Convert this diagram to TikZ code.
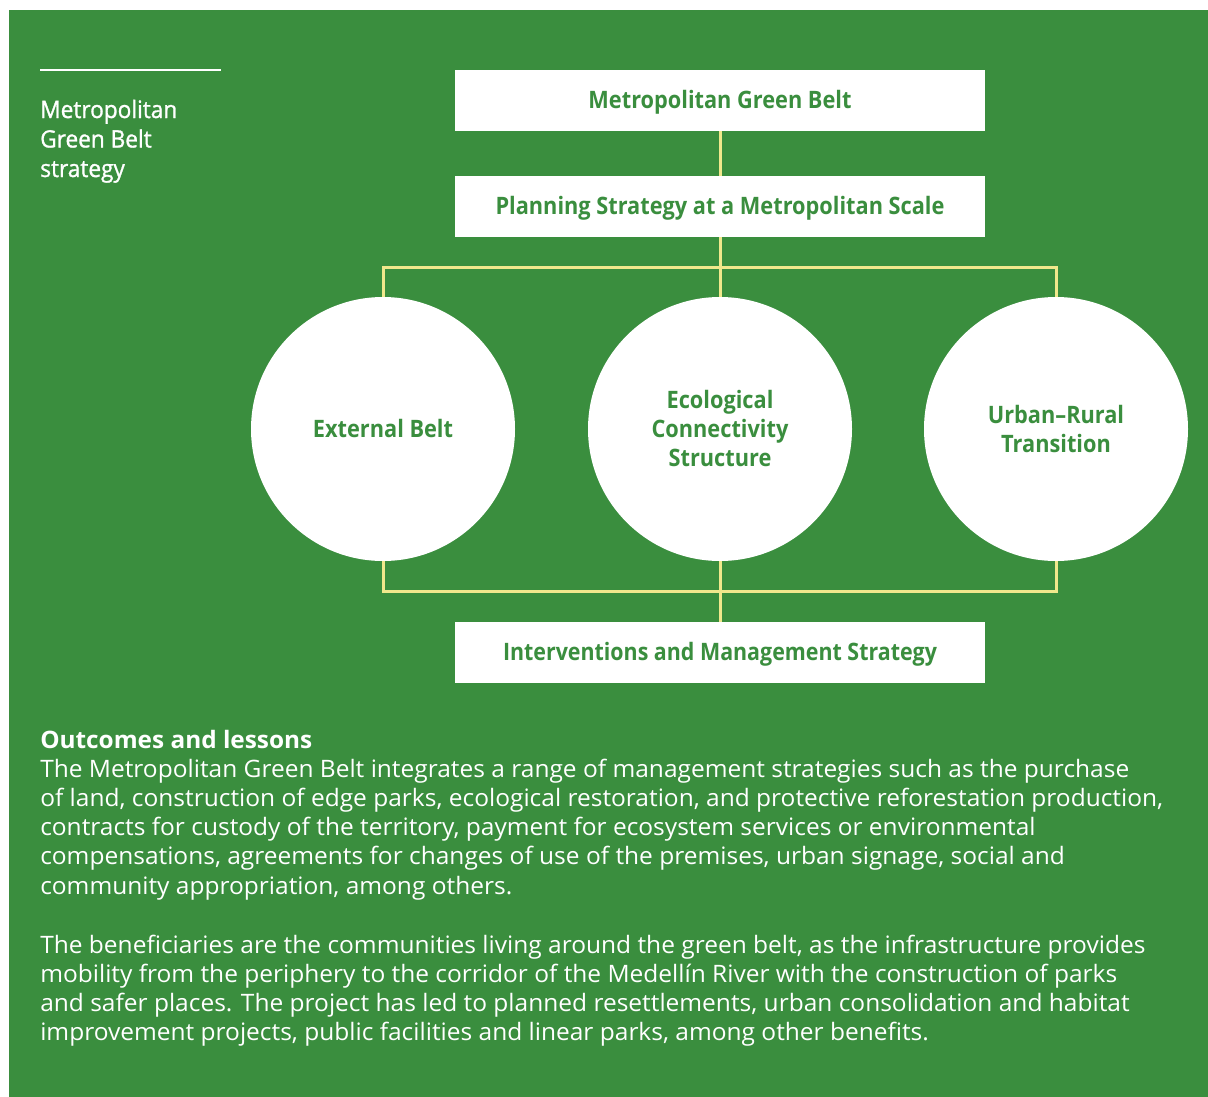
\documentclass[tikz,border=0pt]{standalone}
\usepackage{fontspec}
\setmainfont{Open Sans}
\newfontfamily\medfont{Open Sans}[FakeBold=1.2]
\usepackage{graphicx}
\definecolor{bggreen}{RGB}{58,142,62}
\definecolor{lineyellow}{RGB}{240,232,140}
\newlength\tmpw
\newcommand\fsz{\fontsize{18}{21.75}\selectfont}
\newcommand\mkfac[3]{\settowidth\tmpw{#3}\pgfmathsetmacro\tmpfac{#2/\tmpw}\global\let#1\tmpfac}
\AtBeginDocument{%
\mkfac\sbody{816.75}{\fsz The Metropolitan Green Belt integrates a range of management strategies such as the purchase}%
\mkfac\sbold{336.75}{\fsz\bfseries Planning Strategy at a Metropolitan Scale}%
\mkfac\scond{325.5}{\fsz\bfseries Interventions and Management Strategy}%
\mkfac\shead{204}{\fsz\bfseries Outcomes and lessons}%
\mkfac\stitle{102.75}{\fsz\medfont Metropolitan}%
}
\newcommand\bl[2]{\raisebox{-#1}[\height][\depth]{\scalebox{\sbold}[1]{\fsz\bfseries\begin{tabular}{@{}c@{}}#2\end{tabular}}}}
\begin{document}
\begin{tikzpicture}[x=0.75pt,y=-0.75pt,
  conn/.style={draw=lineyellow,line width=2.25pt},
  boxnode/.style={fill=white,inner sep=0pt,minimum width=397.5pt,minimum height=45.75pt,text=bggreen},
  circnode/.style={circle,fill=white,inner sep=0pt,minimum size=198pt,text=bggreen},
  whitetxt/.style={anchor=base west,inner sep=0pt,text=white}]
\useasboundingbox (0,0) rectangle (1208,1097);
\fill[white] (0,0) rectangle (1208,1097);
\fill[bggreen] (9,10) rectangle (1208,1097);
% top-left rule and title
\coordinate (ruleA) at (40,70);
\coordinate (ruleB) at (221,70);
\draw[white,line width=1.5pt] (ruleA) -- (ruleB);
\node[whitetxt] (t1) at (40,118) {\scalebox{\stitle}[1]{\fsz\medfont Metropolitan}};
\node[whitetxt] (t2) at (40,147.5) {\scalebox{\stitle}[1]{\fsz\medfont Green Belt}};
\node[whitetxt] (t3) at (40,177) {\scalebox{\stitle}[1]{\fsz\medfont strategy}};
% boxes
\node[boxnode] (b1) at (720,100.5) {\bl{1.5pt}{Metropolitan Green Belt}};
\node[boxnode] (b2) at (720,206.5) {\bl{1.5pt}{Planning Strategy at a Metropolitan Scale}};
\node[boxnode] (b3) at (720,652.5) {\raisebox{-1.5pt}[\height][\depth]{\scalebox{\scond}[1]{\fsz\bfseries\begin{tabular}{@{}c@{}}Interventions and Management Strategy\end{tabular}}}};
% circles
\node[circnode] (c1) at (383,429) {\bl{2.25pt}{External Belt}};
\node[circnode] (c2) at (720,429) {\bl{2.25pt}{Ecological\\Connectivity\\Structure}};
\node[circnode] (c3) at (1056,429) {\bl{2.25pt}{Urban–Rural\\Transition}};
% connectors
\coordinate (jt) at (720,267);
\coordinate (jb) at (720,591);
\draw[conn] (b1.south) -- (b2.north);
\draw[conn] (b2.south) -- (c2.north);
\draw[conn] (c1.north) |- (jt) -| (c3.north);
\draw[conn] (c1.south) |- (jb) -| (c3.south);
\draw[conn] (c2.south) -- (b3.north);
% outcomes text
\node[whitetxt] (h) at (40,748) {\scalebox{\shead}[1]{\fsz\bfseries Outcomes and lessons}};
\node[whitetxt] (p1) at (40,777) {\scalebox{\sbody}[1]{\fsz The Metropolitan Green Belt integrates a range of management strategies such as the purchase}};
\node[whitetxt] (p2) at (40,806.3) {\scalebox{\sbody}[1]{\fsz of land, construction of edge parks, ecological restoration, and protective reforestation production,}};
\node[whitetxt] (p3) at (40,835.6) {\scalebox{\sbody}[1]{\fsz contracts for custody of the territory, payment for ecosystem services or environmental}};
\node[whitetxt] (p4) at (40,864.9) {\scalebox{\sbody}[1]{\fsz compensations, agreements for changes of use of the premises, urban signage, social and}};
\node[whitetxt] (p5) at (40,894.2) {\scalebox{\sbody}[1]{\fsz community appropriation, among others.}};
\node[whitetxt] (q1) at (40,953) {\scalebox{\sbody}[1]{\fsz The beneficiaries are the communities living around the green belt, as the infrastructure provides}};
\node[whitetxt] (q2) at (40,982.3) {\scalebox{\sbody}[1]{\fsz mobility from the periphery to the corridor of the Medellín River with the construction of parks}};
\node[whitetxt] (q3) at (40,1011.6) {\scalebox{\sbody}[1]{\fsz and safer places. The project has led to planned resettlements, urban consolidation and habitat}};
\node[whitetxt] (q4) at (40,1040.9) {\scalebox{\sbody}[1]{\fsz improvement projects, public facilities and linear parks, among other benefits.}};
\end{tikzpicture}
\end{document}
